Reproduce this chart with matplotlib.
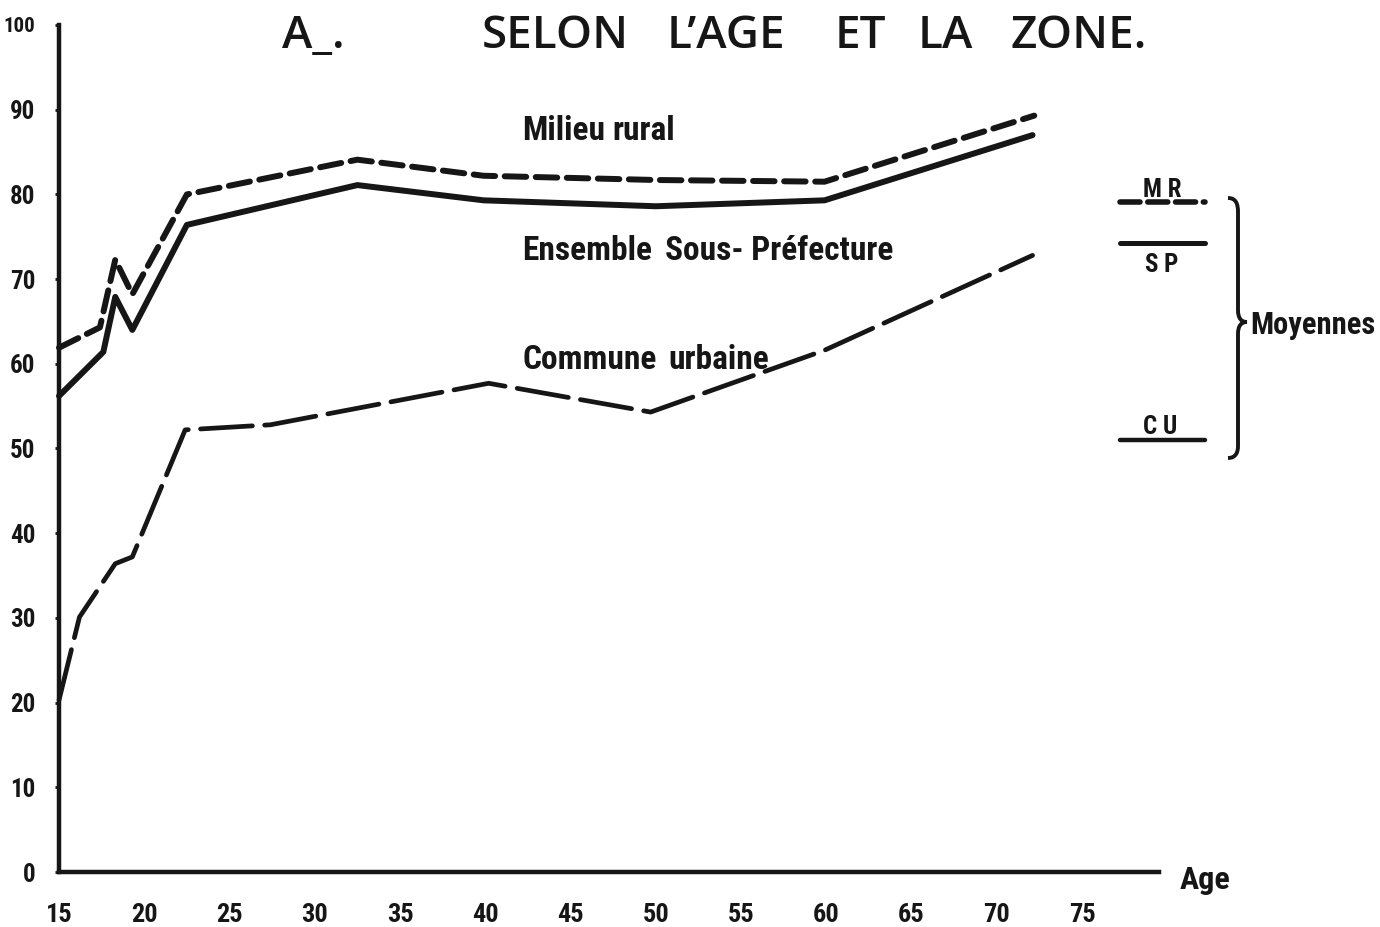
import matplotlib
matplotlib.use("Agg")
import matplotlib.pyplot as plt
from matplotlib import font_manager
from matplotlib.path import Path
from matplotlib.patches import PathPatch

# values (age, percent)
age_rural = [15, 17.4, 18.3, 19.3, 22.5, 32.5, 39.9, 50.0, 59.9, 72.2]
val_rural = [61.9, 64.3, 72.3, 68.2, 80.0, 84.1, 82.2, 81.7, 81.5, 89.3]

age_sp = [15, 17.6, 18.3, 19.3, 22.5, 32.5, 39.9, 50.0, 59.9, 72.1]
val_sp = [56.2, 61.4, 67.9, 64.0, 76.4, 81.1, 79.3, 78.6, 79.3, 87.0]

age_urb = [15, 16.2, 18.3, 19.3, 22.4, 27.4, 40.2, 49.7, 59.9, 72.1]
val_urb = [20.3, 30.1, 36.4, 37.2, 52.2, 52.8, 57.7, 54.3, 61.6, 72.8]

# averages shown at the right ("Moyennes")
avg_mr = 79.1
avg_sp = 74.3
avg_cu = 51.0

x_ticks = list(range(15, 80, 5))
y_ticks = list(range(0, 110, 10))

ink = "#161616"

# narrow bold face if one is installed, else Roboto bold a bit smaller
fonts = font_manager.fontManager.ttflist
names = {f.name for f in fonts}
cond, k = None, 1.0
for nm in ["Liberation Sans Narrow", "Roboto Condensed", "Open Sans Condensed",
           "Noto Sans Condensed", "Arial Narrow"]:
    if nm in names:
        cond = dict(family=nm, weight="bold")
        break
if cond is None:
    for f in fonts:
        if f.stretch in ("condensed", "semi-condensed", "extra-condensed") \
                and f.name in ("DejaVu Sans", "Noto Sans", "Open Sans", "Roboto"):
            cond = dict(family=f.name, stretch=f.stretch, weight="bold")
            break
if cond is None:
    cond = dict(family="Roboto", weight="bold")
    k = 0.86

W, H = 1380, 927
fig = plt.figure(figsize=(W / 100, H / 100), dpi=100)
fig.patch.set_facecolor("white")

x0, x_per = 59, 17.05
xmin, xmax = 15, 86
ax = fig.add_axes([x0 / W, 55 / H, (xmax - xmin) * x_per / W, 847 / H])
ax.set_xlim(xmin, xmax)
ax.set_ylim(0, 100)

for s in ["top", "right"]:
    ax.spines[s].set_visible(False)
for s in ["left", "bottom"]:
    ax.spines[s].set_linewidth(3.2)
    ax.spines[s].set_color(ink)
ax.spines["bottom"].set_bounds(15, 79.5)
ax.spines["left"].set_bounds(0, 100)

ax.set_xticks(x_ticks)
ax.set_yticks(y_ticks)
ax.set_xticklabels([str(t) for t in x_ticks], fontsize=19 * k, color=ink, **cond)
ax.set_yticklabels([str(t) for t in y_ticks], fontsize=18 * k, color=ink, **cond)
ax.get_yticklabels()[-1].set_fontsize(15 * k)
ax.tick_params(axis="x", length=0, pad=22)
ax.tick_params(axis="y", length=3, width=2, color=ink, pad=14)

ax.plot(age_rural, val_rural, color=ink, lw=4.3, linestyle=(0, (3.6, 1.6)),
        dash_capstyle="round", solid_joinstyle="round", clip_on=False)
ax.plot(age_sp, val_sp, color=ink, lw=4.3, solid_capstyle="round",
        solid_joinstyle="round", clip_on=False)
ax.plot(age_urb, val_urb, color=ink, lw=3.4, linestyle=(0, (11, 2.6)),
        dash_capstyle="round", clip_on=False)

# averages on the right
ax.plot([77.2, 82.2], [avg_mr, avg_mr], color=ink, lw=4.0,
        linestyle=(0, (3.6, 1.4)), dash_capstyle="round", clip_on=False)
ax.plot([77.2, 82.2], [avg_sp, avg_sp], color=ink, lw=3.6, clip_on=False,
        solid_capstyle="round")
ax.plot([77.2, 82.2], [avg_cu, avg_cu], color=ink, lw=3.2, clip_on=False,
        solid_capstyle="round")

# overlay in pixel coordinates for texts and the brace
ov = fig.add_axes([0, 0, 1, 1])
ov.set_xlim(0, W)
ov.set_ylim(H, 0)
ov.axis("off")
ov.patch.set_alpha(0)

title_words = [("A_.", 282), ("SELON", 482), ("L\u2019AGE", 667), ("ET", 835),
               ("LA", 918), ("ZONE.", 1010)]
for word, xp in title_words:
    ov.text(xp, 48, word, fontsize=33, family="Open Sans", weight="semibold",
            color=ink, ha="left", va="baseline")

labels = [("Milieu", 522, 140), ("rural", 612, 140),
          ("Ensemble", 522, 260), ("Sous- Préfecture", 665, 260),
          ("Commune", 522, 369), ("urbaine", 668, 369)]
for txt, xp, yp in labels:
    ov.text(xp, yp, txt, fontsize=24 * k, color=ink, ha="left",
            va="baseline", **cond)

ov.text(1180, 889, "Age", fontsize=23 * k, color=ink, ha="left",
        va="baseline", **cond)
ov.text(1250, 334, "Moyennes", fontsize=22 * k, color=ink, ha="left",
        va="baseline", **cond)
ov.text(1162, 197, "M R", fontsize=18 * k, color=ink, ha="center",
        va="baseline", **cond)
ov.text(1162, 272, "S P", fontsize=18 * k, color=ink, ha="center",
        va="baseline", **cond)
ov.text(1160, 434, "C U", fontsize=18 * k, color=ink, ha="center",
        va="baseline", **cond)

brace = Path(
    [(1228, 198), (1236, 198), (1238, 204), (1238, 212),
     (1238, 310),
     (1238, 318), (1241, 322), (1247, 322),
     (1241, 322), (1238, 326), (1238, 334),
     (1238, 446),
     (1238, 452), (1236, 458), (1228, 458)],
    [Path.MOVETO, Path.CURVE4, Path.CURVE4, Path.CURVE4,
     Path.LINETO,
     Path.CURVE4, Path.CURVE4, Path.CURVE4,
     Path.CURVE4, Path.CURVE4, Path.CURVE4,
     Path.LINETO,
     Path.CURVE4, Path.CURVE4, Path.CURVE4])
ov.add_patch(PathPatch(brace, facecolor="none", edgecolor=ink, lw=2.8))

fig.savefig("out.png", dpi=100, facecolor="white")
